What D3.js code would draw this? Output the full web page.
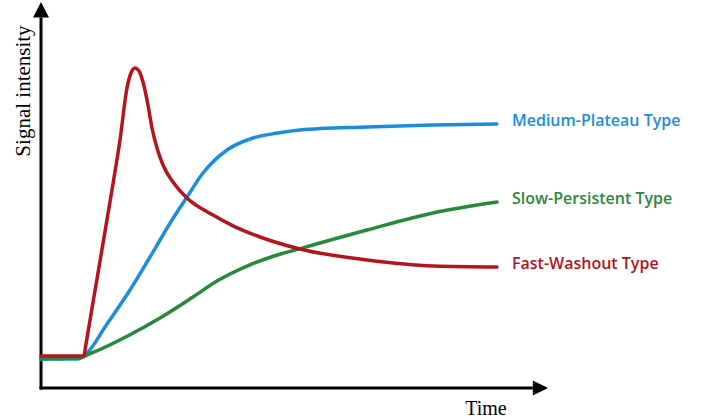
<!DOCTYPE html>
<html>
<head>
<meta charset="utf-8">
<script src="https://cdn.jsdelivr.net/npm/d3@7"></script>
<style>
  html, body { margin: 0; padding: 0; background: #fff; }
  svg { display: block; }
</style>
</head>
<body>
<svg id="chart" width="704" height="418"></svg>
<script>
// ---- data (arbitrary time / intensity units) ----
const seriesNames = ["Medium-Plateau Type", "Slow-Persistent Type", "Fast-Washout Type"];
const seriesColors = ["#1a8edb", "#27893a", "#b3141d"];

const fastTime = [0, 8.48, 8.75, 11.24, 14.0, 15.58, 16.96, 17.75, 18.54, 19.33, 20.12, 21.1, 21.89, 22.88, 24.06, 26.04, 28.8, 33.93, 37.87, 43.2, 51.08, 64.3, 77.32, 89.94];
const fastValue = [8.29, 8.29, 10.4, 29.79, 51.3, 64.25, 77.72, 81.61, 82.9, 82.12, 79.27, 73.32, 67.36, 62.18, 57.77, 53.37, 49.22, 44.8, 42.0, 39.12, 36.01, 33.16, 31.61, 31.35];

const mediumTime = [0, 7.3, 8.48, 13.02, 17.55, 21.5, 25.84, 28.8, 31.95, 36.69, 41.81, 46.75, 51.08, 64.3, 77.32, 89.94];
const mediumValue = [7.51, 7.51, 8.29, 16.58, 25.39, 33.94, 43.52, 49.48, 55.7, 61.66, 64.77, 66.06, 66.84, 67.62, 68.13, 68.39];

const slowTime = [0, 7.3, 10.26, 17.55, 23.47, 29.98, 34.71, 41.22, 46.0, 51.08, 64.3, 77.32, 89.94];
const slowValue = [7.51, 7.77, 9.2, 13.8, 18.13, 23.58, 27.7, 31.9, 34.2, 36.1, 40.93, 45.34, 48.19];

const axisLabels = { x: "Time", y: "Signal intensity" };

// ---- build ----
const series = [
  { name: seriesNames[0], color: seriesColors[0], pts: mediumTime.map((t, i) => [t, mediumValue[i]]) },
  { name: seriesNames[1], color: seriesColors[1], pts: slowTime.map((t, i) => [t, slowValue[i]]) },
  { name: seriesNames[2], color: seriesColors[2], pts: fastTime.map((t, i) => [t, fastValue[i]]) }
];

const svg = d3.select("#chart");
const x = d3.scaleLinear().domain([0, 100]).range([41, 548]);
const y = d3.scaleLinear().domain([0, 100]).range([388, 2]);

// axes
const ax = svg.append("g");
ax.append("line")
  .attr("x1", x(0)).attr("x2", x(0))
  .attr("y1", y(0) + 1.5).attr("y2", y(96))
  .attr("stroke", "#000").attr("stroke-width", 3);
ax.append("line")
  .attr("x1", x(0) - 1.5).attr("x2", x(97))
  .attr("y1", y(0)).attr("y2", y(0))
  .attr("stroke", "#000").attr("stroke-width", 3);
ax.append("path")
  .attr("d", `M${x(0)},${y(100)} L${x(0) - 8},${y(96)} L${x(0) + 8},${y(96)} Z`)
  .attr("fill", "#000");
ax.append("path")
  .attr("d", `M${x(100)},${y(0)} L${x(97)},${y(0) - 7.5} L${x(97)},${y(0) + 7.5} Z`)
  .attr("fill", "#000");

ax.append("text")
  .attr("x", 486).attr("y", 415)
  .attr("text-anchor", "middle")
  .attr("font-family", "Liberation Serif, serif")
  .attr("font-size", 20)
  .text(axisLabels.x);
ax.append("text")
  .attr("transform", "translate(30,91) rotate(-90)")
  .attr("text-anchor", "middle")
  .attr("font-family", "Liberation Serif, serif")
  .attr("font-size", 21)
  .text(axisLabels.y);

// lines
const line = d3.line()
  .x(d => x(d[0]))
  .y(d => y(d[1]))
  .curve(d3.curveMonotoneX);

svg.append("g").selectAll("path")
  .data(series)
  .join("path")
  .attr("d", d => line(d.pts))
  .attr("fill", "none")
  .attr("stroke", d => d.color)
  .attr("stroke-width", 3.5)
  .attr("stroke-linejoin", "round")
  .attr("stroke-linecap", "round");

// labels
svg.append("g").selectAll("text")
  .data(series)
  .join("text")
  .attr("x", d => x(d.pts[d.pts.length - 1][0]) + 15)
  .attr("y", d => y(d.pts[d.pts.length - 1][1]) - 2)
  .attr("dominant-baseline", "middle")
  .attr("font-family", "Open Sans, sans-serif")
  .attr("font-weight", 600)
  .attr("font-size", 16)
  .attr("fill", d => d.color)
  .text(d => d.name);
</script>
</body>
</html>
